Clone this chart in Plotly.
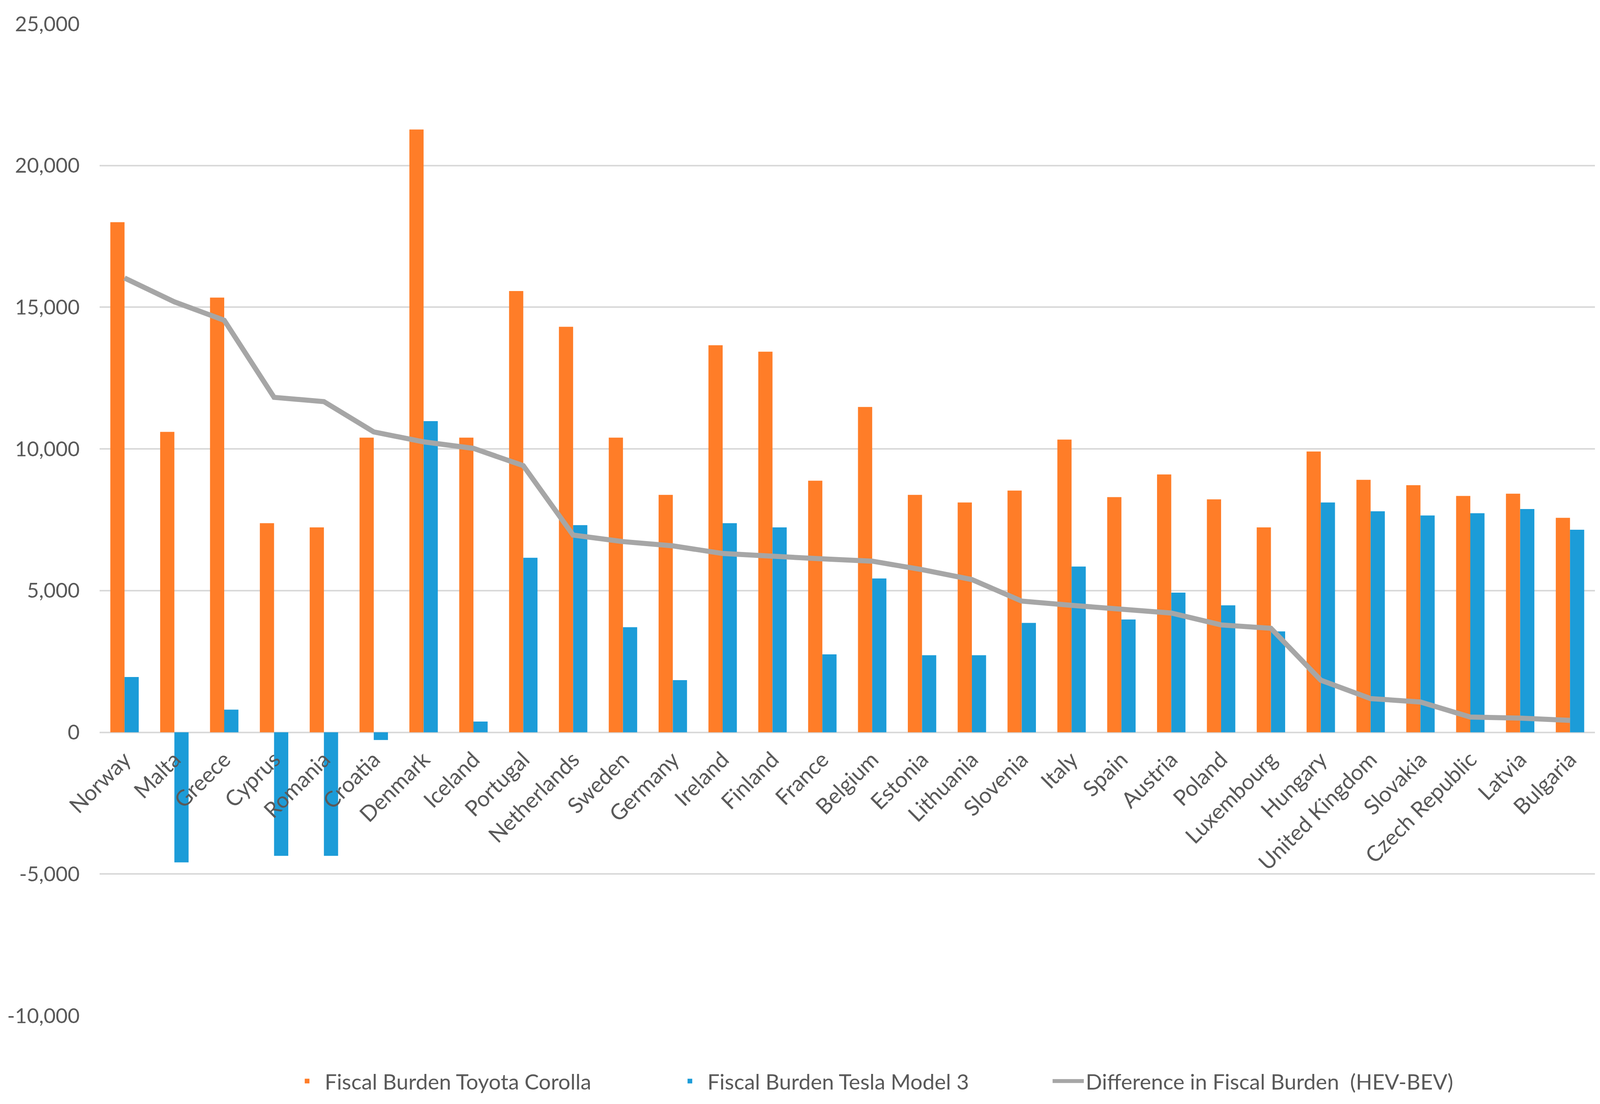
import plotly.graph_objects as go

countries = ["Norway", "Malta", "Greece", "Cyprus", "Romania", "Croatia", "Denmark", "Iceland",
             "Portugal", "Netherlands", "Sweden", "Germany", "Ireland", "Finland", "France",
             "Belgium", "Estonia", "Lithuania", "Slovenia", "Italy", "Spain", "Austria", "Poland",
             "Luxembourg", "Hungary", "United Kingdom", "Slovakia", "Czech Republic", "Latvia",
             "Bulgaria"]

toyota_corolla = [18000, 10600, 15340, 7380, 7230, 10400, 21270, 10400,
                  15570, 14310, 10400, 8380, 13660, 13430, 8880,
                  11480, 8380, 8110, 8530, 10330, 8300, 9100, 8220,
                  7230, 9910, 8910, 8720, 8340, 8420, 7570]

tesla_model3 = [1950, -4590, 800, -4360, -4360, -270, 10980, 380,
                6160, 7310, 3710, 1840, 7380, 7230, 2750,
                5430, 2720, 2720, 3860, 5850, 3980, 4930, 4480,
                3560, 8110, 7800, 7650, 7730, 7880, 7150]

difference = [16030, 15190, 14540, 11820, 11670, 10600, 10250, 10020,
              9410, 6960, 6730, 6580, 6310, 6200, 6120,
              6040, 5740, 5390, 4630, 4480, 4360, 4210, 3790,
              3670, 1840, 1190, 1070, 540, 500, 420]

y_tick_values = [-10000, -5000, 0, 5000, 10000, 15000, 20000, 25000]
y_tick_labels = ["-10,000", "-5,000", "0", "5,000", "10,000", "15,000", "20,000", "25,000"]

ORANGE = "#FF7D28"
BLUE = "#1C9CD8"
GREY = "#A6A6A6"
TEXT = "#595959"
GRID = "#D9D9D9"
FONT = "Lato, 'Open Sans', sans-serif"

fig = go.Figure()
fig.add_trace(go.Bar(name="Fiscal Burden Toyota Corolla", x=countries, y=toyota_corolla,
                     marker=dict(color=ORANGE, line=dict(width=0)), legend="legend"))
fig.add_trace(go.Bar(name="Fiscal Burden Tesla Model 3", x=countries, y=tesla_model3,
                     marker=dict(color=BLUE, line=dict(width=0)), legend="legend2"))
fig.add_trace(go.Scatter(name="Difference in Fiscal Burden  (HEV-BEV)", x=countries, y=difference,
                         mode="lines", line=dict(color=GREY, width=13), legend="legend3"))

ymin, ymax = -10000, 25000
zero_pos = (0 - ymin) / (ymax - ymin)

legend_common = dict(orientation="h", xanchor="left", y=-0.066, yanchor="middle",
                     font=dict(size=55, color=TEXT, family=FONT), itemwidth=80,
                     bgcolor="rgba(0,0,0,0)")

fig.update_layout(
    width=4096, height=2826,
    margin=dict(l=255, r=13, t=61, b=226),
    paper_bgcolor="white", plot_bgcolor="white",
    barmode="group", bargap=0.43, bargroupgap=0,
    font=dict(family=FONT, color=TEXT, size=54),
    showlegend=True,
    legend=dict(x=0.127, **legend_common),
    legend2=dict(x=0.383, **legend_common),
    legend3=dict(x=0.636, **legend_common),
    xaxis=dict(anchor="free", position=zero_pos, showgrid=False, showline=False,
               ticks="", tickangle=-45, tickfont=dict(size=56, color=TEXT, family=FONT),
               ticklabelstandoff=25, zeroline=False),
    yaxis=dict(range=[ymin, ymax], tickvals=y_tick_values, ticktext=y_tick_labels,
               showgrid=True, gridcolor=GRID, gridwidth=4, zeroline=True,
               zerolinecolor=GRID, zerolinewidth=4, showline=False, ticks="",
               ticklabelstandoff=50, tickfont=dict(size=53, color=TEXT, family=FONT)),
)

post = "document.body.style.margin='0';"
fig.write_html("out.html", post_script=post, config={"displayModeBar": False})
